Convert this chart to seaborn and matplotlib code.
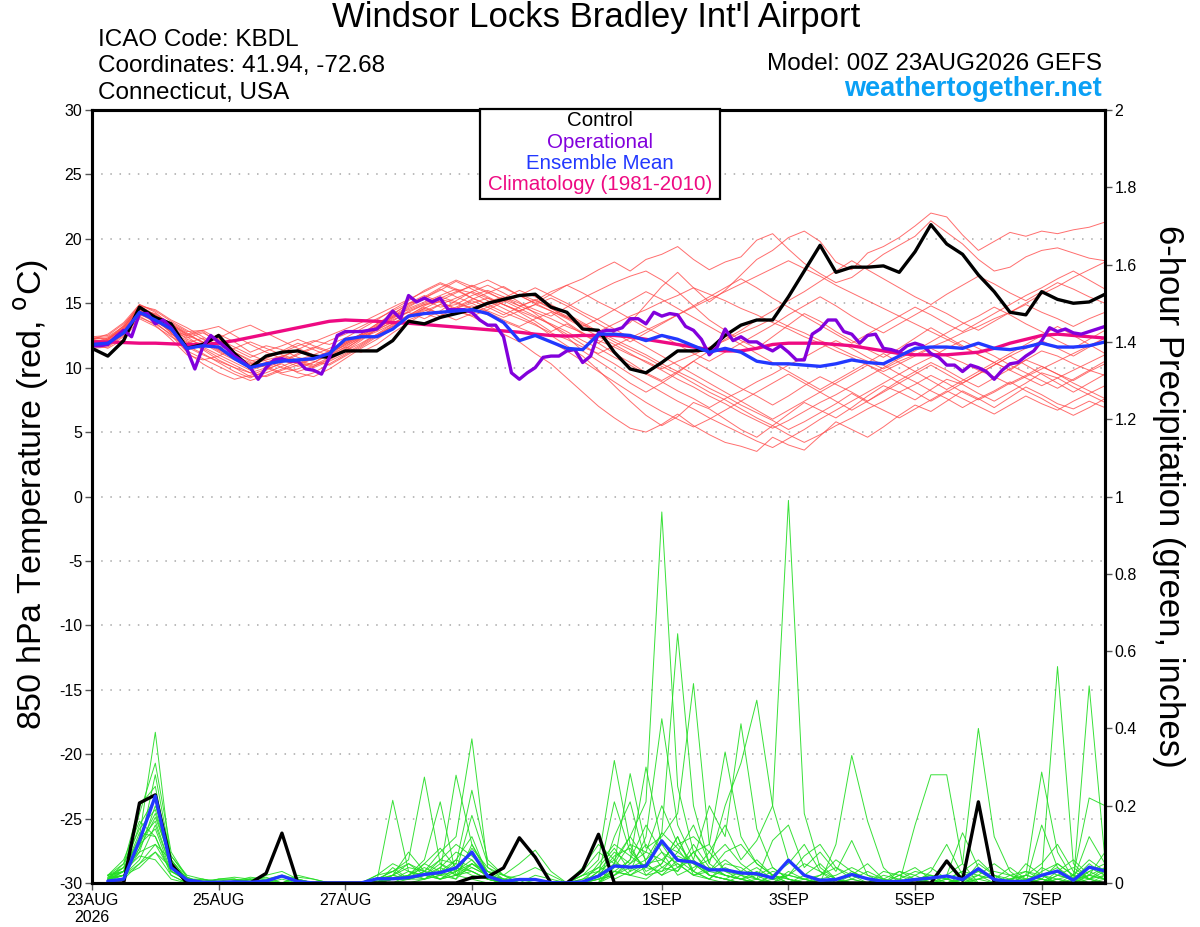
import numpy as np
import pandas as pd
import matplotlib
matplotlib.use("Agg")
import matplotlib.pyplot as plt
from matplotlib.patches import Rectangle
import seaborn as sns

sns.set_theme(style="ticks")
plt.rcParams['font.family'] = ['Liberation Sans', 'DejaVu Sans']
plt.rcParams['text.color'] = 'black'

# ---------------- data ----------------
hours6 = list(range(0, 385, 6))          # temperature, 6-hourly
hours3 = list(range(0, 385, 3))          # operational, 3-hourly
precip_hours = list(range(6, 385, 6))    # 6-hour precip

tick_hours = [0, 48, 96, 144, 216, 264, 312, 360]
tick_labels = ["23AUG\n2026", "25AUG", "27AUG", "29AUG", "1SEP", "3SEP", "5SEP", "7SEP"]

control_temp = [11.5, 10.9, 12.1, 14.7, 13.9, 13.4, 11.5, 11.8, 12.5, 11.1,
                10.0, 10.9, 11.2, 11.3, 10.9, 10.8, 11.3, 11.3, 11.3, 12.1,
                13.6, 13.4, 13.9, 14.2, 14.5, 15.0, 15.3, 15.6, 15.7, 14.7,
                14.3, 13.0, 12.9, 11.2, 9.9, 9.6, 10.4, 11.3, 11.3, 11.4,
                12.5, 13.3, 13.7, 13.7, 15.5, 17.5, 19.5, 17.4, 17.8, 17.8,
                17.9, 17.4, 19.0, 21.1, 19.6, 18.8, 17.2, 15.9, 14.3, 14.1,
                15.9, 15.3, 15.0, 15.1, 15.7]

mean_temp = [11.8, 11.9, 12.7, 14.3, 13.7, 13.0, 11.5, 11.7, 11.6, 10.7,
             10.0, 10.3, 10.5, 10.6, 10.7, 11.1, 12.2, 12.4, 12.4, 13.0,
             14.0, 14.2, 14.3, 14.4, 14.5, 14.2, 13.5, 12.1, 12.5, 12.0,
             11.5, 11.4, 12.6, 12.6, 12.5, 12.1, 12.5, 12.2, 11.7, 11.2,
             11.5, 11.2, 10.5, 10.3, 10.3, 10.2, 10.1, 10.3, 10.6, 10.4,
             10.3, 10.9, 11.5, 11.6, 11.6, 11.5, 11.9, 11.5, 11.4, 11.6,
             11.9, 11.6, 11.6, 11.7, 12.0]

clim_temp = [12.0, 12.0, 11.95, 11.9, 11.9, 11.85, 11.8, 11.8, 11.9, 12.1,
             12.35, 12.6, 12.85, 13.1, 13.35, 13.6, 13.7, 13.65, 13.6, 13.5,
             13.45, 13.35, 13.25, 13.15, 13.05, 12.95, 12.85, 12.75, 12.6, 12.5,
             12.45, 12.5, 12.5, 12.5, 12.4, 12.2, 12.0, 11.8, 11.6, 11.4,
             11.3, 11.3, 11.5, 11.8, 11.9, 11.9, 11.9, 11.8, 11.7, 11.5,
             11.3, 11.1, 11.0, 11.0, 11.0, 11.1, 11.2, 11.5, 11.9, 12.2,
             12.5, 12.6, 12.5, 12.4, 12.3]

oper_temp = [11.7, 11.7, 11.8, 12.4, 12.9, 12.4, 14.2, 14.2, 13.4, 13.7, 13.1, 12.2,
             11.4, 9.9, 11.6, 12.5, 12.0, 11.5, 10.9, 10.5, 10.0, 9.1, 10.0, 10.6,
             10.7, 10.5, 10.5, 9.9, 9.8, 9.5, 10.8, 12.5, 12.8, 12.8, 12.8, 12.9,
             13.0, 13.6, 14.4, 13.8, 15.6, 15.1, 15.4, 15.1, 15.4, 14.5, 14.5, 14.5,
             14.3, 13.7, 13.3, 13.3, 12.4, 9.6, 9.1, 9.6, 10.0, 10.8, 10.9, 10.9,
             11.3, 11.4, 10.4, 10.9, 12.7, 12.9, 12.9, 13.1, 13.8, 13.8, 13.4, 14.3,
             14.0, 14.2, 14.1, 13.2, 12.9, 12.2, 11.0, 11.6, 13.0, 12.1, 12.4, 12.0,
             12.0, 11.6, 11.3, 11.7, 11.2, 10.6, 10.6, 12.6, 13.0, 13.7, 13.7, 12.8,
             12.6, 11.9, 12.5, 12.6, 11.5, 11.4, 11.2, 11.7, 11.9, 11.7, 11.1, 10.8,
             10.2, 10.2, 9.7, 10.2, 10.0, 9.7, 9.1, 9.8, 10.3, 10.4, 10.9, 11.3,
             12.1, 13.1, 12.8, 13.0, 12.7, 12.6, 12.8, 13.0, 13.2]

# ensemble members, 850 hPa temperature (degC), 6-hourly
m01 = [12.0, 11.8, 12.9, 14.6, 13.9, 12.8, 11.9, 12.3, 11.4, 10.8, 10.2, 10.6, 10.9, 11.3, 10.8, 11.0, 11.8, 12.4,
       12.9, 13.6, 14.4, 14.9, 15.1, 14.6, 15.0, 15.4, 14.9, 14.3, 13.6, 12.8, 13.4, 12.6, 11.9, 12.8, 13.5, 14.9,
       16.3, 17.4, 16.2, 15.1, 16.0, 17.2, 18.4, 19.1, 20.1, 20.6, 19.8, 18.2, 17.6, 18.9, 19.4, 20.1, 21.0, 22.0,
       21.7, 20.3, 19.1, 19.8, 20.5, 20.2, 20.6, 20.4, 20.7, 20.9, 21.3]
m02 = [11.7, 12.1, 13.3, 14.9, 14.3, 13.2, 12.4, 11.6, 11.0, 10.4, 9.8, 10.2, 10.6, 10.1, 10.4, 11.1, 12.0, 12.6,
       13.4, 14.1, 15.0, 15.3, 14.7, 14.9, 15.6, 16.0, 15.5, 14.8, 15.2, 15.9, 16.4, 16.9, 17.6, 18.2, 17.5, 18.4,
       18.8, 19.4, 18.4, 17.6, 18.2, 18.6, 19.9, 20.4, 19.2, 18.1, 17.3, 16.6, 17.0, 17.9, 18.8, 19.5, 20.2, 21.4,
       20.5, 19.6, 18.4, 17.5, 17.8, 18.6, 19.1, 19.3, 18.9, 18.5, 18.3]
m03 = [12.2, 11.9, 12.6, 14.2, 13.5, 12.5, 11.2, 10.3, 9.6, 9.1, 9.4, 9.9, 10.3, 9.6, 9.3, 9.9, 10.7, 11.5,
       12.2, 13.0, 13.7, 14.2, 13.8, 14.4, 14.0, 13.3, 12.6, 12.0, 11.1, 10.3, 9.2, 8.1, 7.0, 6.1, 5.3, 5.0,
       5.6, 6.4, 5.5, 4.8, 4.2, 3.9, 3.5, 4.6, 4.0, 3.6, 4.7, 5.8, 5.2, 4.6, 5.4, 6.3, 7.1, 6.6,
       7.4, 8.2, 7.6, 6.9, 7.7, 8.5, 7.9, 7.2, 6.8, 7.4, 6.9]
m04 = [11.9, 12.3, 13.0, 14.4, 14.0, 13.5, 12.8, 12.9, 12.2, 11.6, 11.0, 10.5, 10.0, 9.7, 10.1, 10.6, 11.3, 12.1,
       13.0, 13.8, 14.6, 15.1, 15.6, 16.1, 15.8, 15.2, 14.6, 14.0, 13.4, 12.5, 11.7, 10.9, 9.8, 8.6, 7.4, 6.3,
       5.5, 6.2, 7.3, 6.8, 6.0, 5.2, 4.6, 5.5, 6.4, 7.3, 6.7, 6.1, 6.9, 7.8, 8.6, 8.1, 7.5, 8.3,
       9.1, 8.7, 8.0, 7.4, 8.1, 8.8, 9.6, 9.2, 8.5, 7.9, 7.3]
m05 = [12.4, 12.5, 13.4, 14.7, 14.1, 13.0, 11.5, 11.9, 12.6, 12.0, 11.2, 11.7, 11.4, 10.8, 10.5, 10.2, 10.9, 11.6,
       12.4, 13.3, 14.0, 14.8, 15.3, 15.0, 14.6, 15.1, 15.5, 15.0, 14.5, 14.0, 14.7, 15.4, 16.0, 16.6, 17.1, 17.5,
       16.8, 15.9, 14.8, 13.7, 12.9, 12.1, 11.5, 12.4, 13.3, 14.2, 13.6, 12.8, 12.1, 11.4, 10.8, 11.5, 12.3, 13.1,
       12.4, 11.7, 11.0, 10.4, 9.8, 10.6, 11.3, 10.9, 10.3, 9.8, 9.4]
m06 = [11.6, 11.7, 12.5, 13.9, 13.4, 12.6, 12.0, 11.4, 10.6, 10.0, 9.3, 9.6, 10.1, 10.6, 11.0, 10.7, 11.4, 12.3,
       13.1, 13.9, 14.3, 13.8, 14.4, 15.2, 15.9, 16.4, 15.8, 15.1, 14.2, 13.3, 12.4, 11.3, 10.5, 9.7, 8.8, 8.1,
       8.8, 9.6, 10.5, 11.3, 12.2, 12.9, 13.7, 14.4, 15.2, 15.9, 16.7, 17.5, 18.3, 17.6, 16.9, 16.2, 15.5, 14.9,
       15.7, 16.4, 17.1, 16.5, 15.8, 15.2, 15.9, 16.6, 16.1, 15.5, 15.0]
m07 = [12.1, 12.0, 12.8, 14.3, 13.6, 12.9, 12.5, 12.8, 11.9, 11.2, 10.6, 10.1, 9.6, 9.9, 10.4, 11.0, 11.6, 11.2,
       11.8, 12.7, 13.5, 14.2, 14.9, 14.4, 14.8, 14.3, 13.7, 13.2, 13.8, 14.3, 13.5, 12.7, 11.9, 11.1, 10.4, 9.6,
       9.0, 9.7, 10.5, 9.8, 9.1, 8.4, 7.8, 7.1, 7.8, 8.6, 9.3, 8.7, 8.1, 7.4, 8.2, 9.0, 9.7, 10.4,
       9.8, 9.1, 8.5, 9.2, 9.9, 10.6, 10.1, 9.5, 9.0, 9.7, 10.3]
m08 = [11.8, 12.2, 13.1, 14.8, 14.5, 13.7, 13.1, 12.4, 11.7, 11.2, 10.5, 10.8, 11.2, 11.7, 12.1, 11.8, 12.3, 13.0,
       13.7, 14.5, 15.2, 16.0, 16.6, 16.1, 15.4, 14.9, 15.4, 16.0, 15.5, 14.9, 14.2, 13.5, 12.8, 12.2, 11.6, 11.0,
       10.3, 9.7, 9.1, 8.4, 7.8, 7.1, 6.5, 5.9, 5.2, 5.8, 6.5, 7.2, 8.0, 7.3, 6.7, 6.1, 6.8, 7.5,
       8.2, 7.6, 7.0, 6.4, 7.1, 7.8, 7.2, 6.7, 7.4, 8.0, 8.6]
m09 = [12.3, 12.4, 13.2, 14.5, 13.8, 12.7, 11.3, 10.7, 10.1, 9.5, 9.0, 9.4, 9.9, 10.4, 10.0, 10.5, 11.1, 11.8,
       12.6, 13.4, 14.1, 14.7, 14.2, 14.7, 15.3, 15.8, 16.3, 15.6, 15.0, 15.7, 16.4, 15.8, 15.1, 14.5, 13.8, 13.1,
       12.5, 11.8, 11.1, 10.5, 11.2, 11.9, 12.6, 13.3, 14.1, 14.8, 15.5, 14.8, 14.0, 13.3, 12.7, 13.4, 14.1, 14.8,
       14.2, 13.5, 12.9, 13.6, 14.3, 15.0, 15.7, 16.3, 17.0, 17.6, 18.2]
m10 = [11.5, 11.6, 12.4, 14.0, 13.3, 12.2, 11.0, 10.6, 10.9, 11.5, 12.0, 11.5, 11.0, 10.6, 10.2, 10.8, 11.5, 12.2,
       13.0, 13.5, 14.0, 14.6, 15.2, 15.8, 16.4, 15.9, 15.2, 14.6, 14.0, 13.3, 12.6, 11.8, 11.0, 10.3, 9.5, 8.8,
       8.1, 7.4, 6.8, 6.1, 5.5, 4.9, 4.3, 3.8, 4.5, 5.2, 6.0, 6.7, 7.4, 8.1, 8.8, 9.5, 10.2, 10.8,
       11.5, 12.1, 11.5, 10.9, 10.2, 9.6, 9.0, 8.4, 9.1, 9.8, 10.5]
m11 = [12.0, 12.2, 13.0, 14.6, 14.0, 13.1, 12.2, 11.8, 12.3, 12.9, 13.3, 12.7, 12.1, 11.5, 11.0, 11.5, 12.0, 12.6,
       13.3, 14.0, 14.8, 15.4, 16.0, 16.7, 16.1, 15.5, 14.9, 14.4, 14.9, 15.4, 14.8, 14.1, 13.4, 12.7, 12.0, 12.7,
       13.4, 14.1, 14.8, 15.5, 16.2, 16.9, 16.2, 15.4, 14.7, 14.0, 13.3, 12.6, 11.9, 12.6, 13.3, 14.0, 14.7, 14.1,
       13.4, 12.8, 13.5, 14.2, 14.9, 15.6, 16.2, 16.9, 17.5, 16.8, 16.1]
m12 = [11.9, 11.5, 12.2, 13.8, 13.2, 12.4, 11.7, 11.1, 10.4, 9.7, 9.2, 9.8, 10.4, 11.0, 11.5, 12.1, 12.6, 13.2,
       13.8, 14.4, 15.0, 15.6, 15.1, 14.5, 14.0, 14.5, 15.1, 15.6, 16.2, 15.6, 15.0, 14.3, 13.7, 13.0, 12.3, 11.6,
       10.9, 10.2, 9.5, 8.8, 8.1, 7.4, 6.7, 6.0, 6.7, 7.4, 8.1, 8.8, 9.5, 10.2, 9.5, 8.8, 8.1, 7.4,
       8.1, 8.8, 9.5, 10.2, 10.9, 11.5, 12.1, 11.5, 10.9, 11.6, 12.3]
m13 = [12.2, 12.6, 13.5, 14.9, 14.4, 13.6, 12.9, 12.2, 11.5, 10.8, 10.3, 10.7, 11.3, 11.9, 11.4, 10.9, 11.6, 12.4,
       13.2, 14.0, 14.5, 15.0, 15.5, 15.1, 14.6, 14.1, 13.6, 13.1, 12.6, 12.0, 11.3, 10.5, 9.7, 8.9, 8.1, 7.3,
       6.6, 6.0, 5.4, 6.0, 6.7, 7.4, 8.1, 8.8, 9.5, 8.8, 8.1, 7.4, 6.7, 7.4, 8.1, 8.8, 9.5, 10.2,
       9.5, 8.8, 9.5, 10.2, 10.9, 10.2, 9.5, 8.8, 8.1, 8.8, 9.5]
m14 = [11.7, 11.9, 12.7, 14.1, 13.7, 13.3, 12.6, 12.0, 11.4, 10.9, 10.4, 10.0, 9.5, 9.2, 9.6, 10.3, 11.0, 11.7,
       12.5, 13.2, 13.9, 14.5, 14.0, 14.6, 15.2, 14.7, 14.1, 14.7, 15.3, 14.6, 13.9, 13.2, 13.8, 14.5, 15.2, 15.9,
       15.3, 14.6, 13.9, 13.2, 12.5, 11.8, 11.1, 10.4, 9.7, 9.0, 8.3, 9.0, 9.7, 10.4, 11.1, 10.4, 9.7, 9.0,
       8.3, 9.0, 9.7, 10.4, 11.1, 11.8, 12.5, 13.2, 12.5, 11.8, 11.1]
m15 = [12.1, 12.0, 12.9, 14.4, 13.9, 13.0, 12.3, 12.7, 12.1, 11.4, 10.8, 11.3, 11.7, 12.2, 11.7, 11.3, 11.9, 12.5,
       13.1, 13.7, 14.3, 14.9, 15.4, 15.9, 16.3, 16.8, 16.2, 15.6, 15.0, 14.4, 13.8, 13.1, 12.4, 11.8, 11.1, 10.4,
       9.8, 9.1, 8.5, 7.8, 7.2, 6.5, 5.9, 5.3, 5.9, 6.6, 7.3, 7.9, 8.6, 9.3, 10.0, 10.7, 11.3, 12.0,
       12.7, 13.4, 14.0, 14.7, 14.1, 13.4, 12.8, 12.1, 11.5, 12.2, 12.9]
m16 = [11.8, 12.1, 12.9, 14.2, 13.6, 12.8, 12.1, 11.5, 10.8, 10.2, 9.6, 10.0, 10.5, 11.1, 11.6, 11.2, 11.8, 12.5,
       13.2, 13.9, 14.7, 15.4, 16.1, 15.5, 15.0, 14.4, 13.9, 14.4, 14.9, 14.4, 13.9, 13.3, 12.8, 13.4, 14.0, 14.5,
       15.1, 15.6, 16.2, 15.7, 15.2, 14.6, 14.1, 13.5, 13.0, 12.4, 11.9, 11.3, 10.8, 10.2, 9.7, 10.3, 10.9, 11.5,
       10.9, 10.4, 9.8, 9.3, 8.7, 9.3, 9.9, 10.5, 11.1, 11.7, 12.3]
m17 = [12.0, 11.7, 12.6, 14.5, 14.2, 13.4, 12.7, 11.9, 11.2, 10.6, 10.1, 10.4, 10.9, 10.5, 10.1, 10.7, 11.3, 11.9,
       12.6, 13.2, 13.9, 14.6, 14.2, 13.7, 14.2, 14.7, 15.2, 15.7, 15.2, 14.6, 14.0, 13.4, 12.7, 12.0, 11.4, 10.8,
       10.1, 9.5, 8.8, 8.1, 7.5, 6.8, 6.1, 5.5, 4.8, 4.2, 4.8, 5.5, 6.1, 6.8, 7.4, 8.1, 8.7, 9.4,
       8.8, 8.1, 7.5, 8.1, 8.8, 9.4, 10.1, 9.5, 8.8, 8.2, 7.6]
m18 = [12.3, 12.2, 13.1, 14.7, 14.0, 13.3, 12.5, 12.0, 11.3, 10.7, 10.0, 10.3, 10.8, 11.4, 12.0, 12.5, 13.0, 13.5,
       14.1, 14.7, 15.3, 15.9, 16.5, 16.0, 15.4, 14.9, 14.3, 13.8, 13.3, 12.7, 12.2, 11.6, 11.1, 11.7, 12.3, 12.9,
       13.5, 14.1, 14.7, 15.3, 15.9, 16.5, 17.1, 17.7, 18.3, 17.7, 17.1, 16.4, 15.8, 15.2, 14.6, 14.0, 13.4, 12.8,
       12.2, 11.6, 11.0, 10.4, 9.8, 9.2, 8.6, 9.2, 9.8, 10.4, 11.0]
m19 = [11.6, 11.8, 12.7, 14.3, 13.8, 12.7, 11.6, 11.0, 10.5, 10.0, 9.6, 9.3, 9.8, 10.2, 10.7, 11.2, 11.7, 12.3,
       12.8, 13.4, 13.9, 14.4, 14.9, 15.4, 15.9, 15.4, 14.9, 14.4, 13.9, 13.4, 12.8, 12.1, 11.5, 10.8, 10.2, 9.5,
       8.9, 8.2, 7.6, 6.9, 7.6, 8.2, 8.9, 9.5, 10.2, 10.8, 11.5, 12.1, 11.5, 10.8, 10.2, 9.5, 8.9, 8.2,
       7.6, 6.9, 7.6, 8.2, 8.9, 8.2, 7.6, 6.9, 6.3, 6.9, 7.6]
m20 = [12.2, 12.3, 13.2, 14.8, 14.1, 13.4, 12.6, 12.9, 13.2, 12.5, 11.8, 11.2, 10.7, 10.3, 10.7, 11.3, 11.9, 12.6,
       13.4, 14.2, 14.9, 15.5, 16.2, 16.8, 16.3, 15.8, 15.3, 14.8, 14.3, 13.8, 13.2, 12.7, 12.1, 11.6, 11.0, 10.5,
       9.9, 10.5, 11.0, 11.6, 12.1, 12.7, 13.2, 13.8, 13.2, 12.7, 12.1, 11.6, 11.0, 10.5, 9.9, 10.5, 11.0, 11.6,
       12.1, 12.7, 13.2, 13.8, 14.3, 14.9, 14.3, 13.8, 13.2, 13.8, 14.3]
temp_members = [m01, m02, m03, m04, m05, m06, m07, m08, m09, m10,
                m11, m12, m13, m14, m15, m16, m17, m18, m19, m20]

# 6-hour precipitation (inches)
control_precip = [0, 0, 0.207, 0.228, 0.05, 0, 0, 0,
                  0, 0, 0.025, 0.129, 0, 0, 0, 0,
                  0, 0, 0, 0, 0, 0, 0, 0.014,
                  0.016, 0.039, 0.117, 0.067, 0, 0, 0.033, 0.126,
                  0, 0, 0, 0, 0, 0, 0, 0,
                  0, 0, 0, 0, 0, 0, 0, 0,
                  0, 0, 0, 0, 0, 0.057, 0.007, 0.21,
                  0, 0, 0, 0, 0, 0, 0, 0]
mean_precip = [0.005, 0.01, 0.11, 0.225, 0.04, 0.008, 0.002, 0.002,
               0.003, 0.002, 0.005, 0.018, 0.004, 0, 0, 0,
               0, 0.011, 0.011, 0.014, 0.022, 0.027, 0.039, 0.08,
               0.017, 0.004, 0.009, 0.009, 0.001, 0, 0.003, 0.018,
               0.044, 0.041, 0.044, 0.109, 0.059, 0.054, 0.034, 0.034,
               0.026, 0.024, 0.013, 0.059, 0.02, 0.007, 0.009, 0.022,
               0.011, 0.004, 0.004, 0.009, 0.013, 0.018, 0.009, 0.037,
               0.009, 0.004, 0.004, 0.02, 0.031, 0.007, 0.041, 0.031]

p01 = [0.01, 0.03, 0.12, 0.39, 0.05, 0.01, 0, 0, 0.005, 0.01, 0, 0, 0, 0, 0, 0,
       0, 0, 0.02, 0.05, 0.03, 0.08, 0.12, 0.373, 0.04, 0.01, 0, 0, 0, 0, 0, 0.03,
       0.06, 0.12, 0.21, 0.96, 0.25, 0.08, 0.02, 0.01, 0, 0, 0, 0, 0.02, 0.05, 0.01, 0,
       0, 0, 0, 0, 0, 0.01, 0.03, 0.02, 0, 0, 0, 0.01, 0.05, 0.02, 0, 0.01]
p02 = [0.02, 0.04, 0.18, 0.31, 0.08, 0.015, 0, 0.01, 0.01, 0, 0, 0.02, 0.01, 0, 0, 0,
       0, 0, 0, 0, 0.01, 0.02, 0.05, 0.03, 0.01, 0, 0, 0, 0, 0, 0.02, 0.06,
       0.317, 0.1, 0.02, 0.05, 0.12, 0.03, 0.08, 0.15, 0.06, 0.11, 0.2, 0.99, 0.18, 0.04, 0.01, 0,
       0, 0, 0.02, 0.04, 0.01, 0, 0, 0, 0, 0.01, 0.03, 0.02, 0, 0, 0.04, 0.02]
p03 = [0.015, 0.02, 0.09, 0.28, 0.06, 0.01, 0, 0, 0, 0.01, 0.015, 0, 0, 0, 0, 0,
       0, 0.01, 0.03, 0.06, 0.274, 0.05, 0.02, 0.01, 0, 0, 0, 0, 0, 0, 0, 0.02,
       0.21, 0.08, 0.04, 0.13, 0.645, 0.2, 0.05, 0.02, 0.01, 0, 0, 0.03, 0.01, 0, 0, 0.02,
       0.05, 0.01, 0, 0, 0, 0.02, 0.05, 0.40, 0.12, 0.03, 0, 0, 0.01, 0, 0, 0]
p04 = [0.01, 0.05, 0.2, 0.25, 0.04, 0.005, 0.01, 0, 0, 0, 0, 0, 0, 0, 0, 0,
       0, 0.005, 0.214, 0.03, 0.01, 0.04, 0.08, 0.06, 0.02, 0, 0, 0, 0, 0, 0, 0,
       0.05, 0.283, 0.09, 0.12, 0.18, 0.516, 0.1, 0.03, 0.01, 0, 0.02, 0.05, 0.1, 0.03, 0.01, 0,
       0, 0, 0, 0, 0.03, 0.1, 0.02, 0, 0, 0, 0.02, 0.287, 0.08, 0.01, 0.12, 0.05]
p05 = [0.005, 0.03, 0.15, 0.22, 0.03, 0.01, 0.005, 0.01, 0.015, 0.01, 0, 0, 0, 0, 0, 0,
       0, 0, 0.01, 0.02, 0.06, 0.21, 0.02, 0.05, 0.03, 0.01, 0, 0, 0, 0, 0, 0,
       0.02, 0.06, 0.30, 0.1, 0.08, 0.15, 0.05, 0.2, 0.31, 0.473, 0.2, 0.06, 0.02, 0.01, 0, 0,
       0, 0, 0, 0.02, 0.04, 0.01, 0, 0, 0, 0, 0, 0, 0.01, 0.02, 0.22, 0.2]
p06 = [0.01, 0.02, 0.08, 0.2, 0.07, 0.02, 0.01, 0, 0, 0.005, 0.01, 0.02, 0, 0, 0, 0,
       0, 0, 0.04, 0.01, 0.05, 0.03, 0.279, 0.1, 0.02, 0, 0, 0, 0, 0, 0.01, 0.04,
       0.09, 0.03, 0.12, 0.425, 0.15, 0.06, 0.2, 0.12, 0.412, 0.14, 0.04, 0.01, 0, 0, 0, 0,
       0, 0, 0.03, 0.01, 0, 0, 0, 0.05, 0.02, 0, 0, 0.02, 0.56, 0.05, 0.01, 0]
p07 = [0.02, 0.03, 0.1, 0.18, 0.05, 0.01, 0, 0, 0, 0, 0, 0, 0.01, 0, 0, 0,
       0, 0.01, 0.02, 0.04, 0.03, 0.06, 0.05, 0.24, 0.06, 0.02, 0, 0, 0, 0, 0.03, 0.08,
       0.05, 0.12, 0.06, 0.1, 0.04, 0.08, 0.1, 0.339, 0.12, 0.05, 0.02, 0, 0, 0, 0.1, 0.33,
       0.16, 0.04, 0, 0, 0, 0, 0, 0, 0, 0, 0, 0.15, 0.04, 0, 0.51, 0.06]
p08 = [0.01, 0.02, 0.06, 0.15, 0.04, 0, 0, 0.005, 0.01, 0, 0, 0, 0, 0, 0, 0,
       0, 0, 0.01, 0.01, 0.02, 0.05, 0.03, 0.175, 0.05, 0.02, 0.05, 0.085, 0.03, 0, 0, 0,
       0.12, 0.21, 0.05, 0.02, 0.06, 0.03, 0.01, 0.04, 0.02, 0.01, 0.11, 0.15, 0.04, 0.08, 0.03, 0.11,
       0.02, 0, 0, 0.15, 0.28, 0.28, 0.05, 0, 0, 0, 0.05, 0.02, 0, 0, 0.03, 0.01]
p09 = [0.02, 0.06, 0.16, 0.12, 0.03, 0.01, 0, 0, 0, 0.01, 0.005, 0, 0, 0, 0, 0,
       0, 0, 0.02, 0.08, 0.03, 0.01, 0.04, 0.03, 0.01, 0, 0, 0, 0, 0, 0, 0.05,
       0.1, 0.07, 0.04, 0.08, 0.05, 0.02, 0.04, 0.02, 0.01, 0.03, 0.01, 0.02, 0.07, 0.1, 0.04, 0.01,
       0, 0, 0, 0, 0.01, 0.02, 0.13, 0.04, 0.01, 0.04, 0.01, 0, 0.02, 0.01, 0.05, 0.02]
p10 = [0.005, 0.01, 0.05, 0.1, 0.06, 0.01, 0.005, 0, 0, 0, 0, 0, 0.015, 0.01, 0, 0,
       0, 0.02, 0.05, 0.03, 0.02, 0.06, 0.1, 0.07, 0.03, 0.02, 0.01, 0, 0, 0, 0, 0,
       0.04, 0.1, 0.08, 0.06, 0.1, 0.12, 0.08, 0.03, 0.02, 0, 0, 0.02, 0.05, 0.03, 0, 0,
       0, 0.03, 0.02, 0, 0, 0, 0, 0.02, 0.01, 0, 0, 0.03, 0.05, 0.02, 0.01, 0.03]
p11 = [0.01, 0.02, 0.04, 0.08, 0.02, 0, 0, 0, 0.005, 0.01, 0, 0, 0, 0, 0, 0,
       0, 0, 0, 0.02, 0.04, 0.02, 0.06, 0.12, 0.02, 0, 0, 0, 0, 0, 0, 0.01,
       0.03, 0.06, 0.15, 0.08, 0.02, 0.04, 0.06, 0.1, 0.05, 0.02, 0, 0, 0, 0.02, 0.04, 0.02,
       0, 0, 0.01, 0.03, 0.02, 0, 0, 0.01, 0.03, 0.02, 0, 0.01, 0, 0, 0.02, 0.04]
p12 = [0.015, 0.03, 0.07, 0.06, 0.01, 0, 0, 0, 0, 0, 0, 0, 0, 0, 0, 0,
       0, 0.02, 0.03, 0.01, 0.03, 0.02, 0.01, 0.05, 0.02, 0.01, 0, 0, 0, 0, 0.04, 0.1,
       0.06, 0.02, 0.04, 0.03, 0.08, 0.05, 0.02, 0.01, 0.03, 0.06, 0.02, 0.01, 0, 0, 0, 0.03,
       0.01, 0, 0, 0, 0, 0, 0.01, 0.02, 0.05, 0.02, 0.01, 0, 0.03, 0.06, 0.02, 0.01]
p13 = [0.01, 0.04, 0.11, 0.16, 0.04, 0.01, 0.01, 0.005, 0, 0, 0.02, 0.03, 0.01, 0, 0, 0,
       0, 0.01, 0.02, 0.01, 0.02, 0.04, 0.02, 0.09, 0.04, 0.02, 0, 0, 0, 0, 0.02, 0.03,
       0.08, 0.05, 0.1, 0.04, 0.03, 0.08, 0.03, 0.02, 0.01, 0.02, 0.04, 0.01, 0, 0.01, 0.02, 0.04,
       0.02, 0.01, 0, 0, 0, 0.01, 0.03, 0.06, 0.02, 0, 0, 0.04, 0.02, 0.01, 0.02, 0.08]
p14 = [0.01, 0.02, 0.1, 0.14, 0.03, 0.01, 0, 0.01, 0.01, 0.005, 0, 0, 0, 0, 0, 0,
       0, 0, 0.01, 0.03, 0.02, 0.01, 0.03, 0.06, 0.01, 0, 0, 0, 0, 0, 0, 0.02,
       0.05, 0.04, 0.06, 0.13, 0.09, 0.03, 0.01, 0.05, 0.04, 0.01, 0, 0, 0, 0, 0, 0,
       0, 0.01, 0.03, 0.02, 0, 0, 0.01, 0.01, 0, 0.01, 0.02, 0.05, 0.1, 0.03, 0.01, 0.04]
p15 = [0.02, 0.05, 0.14, 0.19, 0.05, 0.01, 0, 0, 0, 0, 0, 0.01, 0, 0, 0, 0,
       0, 0, 0.01, 0.02, 0.05, 0.09, 0.04, 0.02, 0.01, 0, 0, 0, 0, 0, 0, 0.01,
       0.02, 0.05, 0.08, 0.2, 0.1, 0.05, 0.03, 0.08, 0.1, 0.05, 0.02, 0, 0, 0, 0, 0.01,
       0.03, 0.01, 0, 0, 0, 0, 0.02, 0.03, 0.01, 0, 0.02, 0.01, 0, 0.02, 0.06, 0.03]
p16 = [0.01, 0.03, 0.13, 0.12, 0.02, 0, 0, 0, 0.005, 0.015, 0.01, 0, 0, 0, 0, 0,
       0, 0, 0, 0.01, 0.03, 0.01, 0.02, 0.04, 0.02, 0.01, 0.02, 0.04, 0.02, 0, 0, 0,
       0.03, 0.02, 0.05, 0.06, 0.03, 0.1, 0.04, 0.02, 0.01, 0, 0.02, 0.01, 0, 0, 0.01, 0.02,
       0.01, 0, 0.02, 0.01, 0, 0, 0, 0, 0, 0.02, 0.03, 0.01, 0, 0, 0.01, 0.02]
p17 = [0.005, 0.02, 0.09, 0.17, 0.06, 0.01, 0, 0, 0, 0, 0, 0, 0, 0, 0, 0,
       0, 0.01, 0.03, 0.05, 0.02, 0.03, 0.01, 0.1, 0.03, 0, 0, 0, 0, 0, 0.01, 0.02,
       0.07, 0.09, 0.03, 0.05, 0.12, 0.02, 0.01, 0, 0.02, 0.04, 0.01, 0, 0.01, 0.02, 0.06, 0.03,
       0.01, 0, 0, 0.01, 0.02, 0.01, 0, 0.01, 0.02, 0.01, 0, 0.02, 0.04, 0.01, 0, 0.02]
p18 = [0.015, 0.04, 0.08, 0.1, 0.03, 0.005, 0, 0, 0, 0, 0, 0, 0, 0, 0, 0,
       0, 0, 0.01, 0.02, 0.01, 0.03, 0.06, 0.04, 0.02, 0.01, 0, 0, 0, 0, 0, 0.03,
       0.01, 0.03, 0.05, 0.02, 0.04, 0.06, 0.02, 0.01, 0, 0.01, 0.03, 0.02, 0.01, 0, 0, 0.01,
       0, 0.02, 0.01, 0, 0, 0, 0.01, 0.03, 0.01, 0, 0.01, 0, 0.02, 0.04, 0.01, 0]
p19 = [0.01, 0.02, 0.05, 0.08, 0.04, 0.01, 0.005, 0, 0, 0, 0, 0, 0, 0, 0, 0,
       0, 0.005, 0.01, 0.01, 0.02, 0.01, 0.02, 0.03, 0.01, 0, 0, 0.02, 0.01, 0, 0, 0.01,
       0.02, 0.04, 0.02, 0.03, 0.05, 0.02, 0.03, 0.06, 0.03, 0.01, 0, 0, 0, 0, 0.01, 0,
       0, 0, 0, 0, 0.01, 0.02, 0.01, 0, 0, 0.01, 0.02, 0.01, 0, 0.01, 0.03, 0.05]
p20 = [0.02, 0.03, 0.11, 0.23, 0.07, 0.015, 0, 0, 0, 0, 0, 0, 0.02, 0.01, 0, 0,
       0, 0, 0.02, 0.01, 0.01, 0.02, 0.03, 0.05, 0.02, 0, 0, 0, 0, 0, 0.02, 0.04,
       0.03, 0.02, 0.01, 0.04, 0.07, 0.05, 0.02, 0.01, 0, 0, 0.01, 0.02, 0.01, 0, 0, 0,
       0, 0, 0, 0.01, 0.02, 0.01, 0, 0, 0, 0, 0.01, 0.02, 0.01, 0, 0.02, 0.01]
precip_members = [p01, p02, p03, p04, p05, p06, p07, p08, p09, p10,
                  p11, p12, p13, p14, p15, p16, p17, p18, p19, p20]

# ---------------- colours ----------------
C_MEMBER_T = "#FF4A4A"
C_MEMBER_P = "#22DD22"
C_CONTROL = "#000000"
C_OPER = "#8200DC"
C_MEAN = "#2238FF"
C_CLIM = "#EE0A82"
C_SITE = "#0AA0F5"

# ---------------- long tables for seaborn ----------------
temp_df = pd.DataFrame({
    "hour": np.tile(hours6, len(temp_members)),
    "temp": np.concatenate([np.asarray(m, float) for m in temp_members]),
    "member": np.repeat(np.arange(len(temp_members)), len(hours6)),
})
precip_df = pd.DataFrame({
    "hour": np.tile(precip_hours, len(precip_members)),
    "precip": np.concatenate([np.asarray(m, float) for m in precip_members]),
    "member": np.repeat(np.arange(len(precip_members)), len(precip_hours)),
})

# ---------------- figure ----------------
W, H = 1200, 927
fig = plt.figure(figsize=(W / 100, H / 100), dpi=100)
ax = fig.add_axes([92 / W, 1 - 883 / H, (1105 - 92) / W, (883 - 110) / H])
ax2 = ax.twinx()

# temperature
sns.lineplot(data=temp_df, x="hour", y="temp", units="member", estimator=None,
             color=C_MEMBER_T, lw=0.7, alpha=0.8, ax=ax, legend=False)
sns.lineplot(x=hours6, y=clim_temp, color=C_CLIM, lw=2.4, ax=ax)
sns.lineplot(x=hours6, y=control_temp, color=C_CONTROL, lw=2.4, ax=ax)
sns.lineplot(x=hours3, y=oper_temp, color=C_OPER, lw=2.4, ax=ax)
sns.lineplot(x=hours6, y=mean_temp, color=C_MEAN, lw=2.4, ax=ax)

# precipitation
sns.lineplot(data=precip_df, x="hour", y="precip", units="member", estimator=None,
             color=C_MEMBER_P, lw=0.7, alpha=0.9, ax=ax2, legend=False)
sns.lineplot(x=precip_hours, y=control_precip, color=C_CONTROL, lw=2.4, ax=ax2)
sns.lineplot(x=precip_hours, y=mean_precip, color=C_MEAN, lw=2.4, ax=ax2)

# axes
ax.set_xlim(0, 384)
ax.set_ylim(-30, 30)
ax2.set_ylim(0, 2)
ax.set_xticks(tick_hours)
ax.set_xticklabels(tick_labels)
ax.set_yticks(np.arange(-30, 31, 5))
ax.set_yticklabels([str(v) for v in range(-30, 31, 5)])
r_ticks = np.round(np.arange(0, 2.01, 0.2), 1)
ax2.set_yticks(r_ticks)
ax2.set_yticklabels([("%g" % v) for v in r_ticks])
ax.set_xlabel("")
ax.set_ylabel("")
ax2.set_ylabel("")

ax.grid(axis="y", color="#A8A8A8", linestyle=(0, (1, 5)), linewidth=1.1)
ax.set_axisbelow(True)

for a in (ax, ax2):
    for s in a.spines.values():
        s.set_linewidth(2.2)
        s.set_color("black")
ax.tick_params(axis="both", direction="out", length=5, width=1, color="#555555",
               labelsize=11.5, pad=2, labelcolor="black")
ax2.tick_params(axis="y", direction="out", length=5, width=1, color="#555555",
                labelsize=11.5, pad=2, labelcolor="black")

# titles / annotations
fig.text(596 / W, 1 - 18 / H, "Windsor Locks Bradley Int'l Airport",
         ha="center", va="center", fontsize=25, color="black")
fig.text(98 / W, 1 - 40 / H, "ICAO Code: KBDL", ha="left", va="center", fontsize=17.5)
fig.text(98 / W, 1 - 66 / H, "Coordinates: 41.94, -72.68", ha="left", va="center", fontsize=17.5)
fig.text(98 / W, 1 - 93 / H, "Connecticut, USA", ha="left", va="center", fontsize=17.5)
fig.text(1102 / W, 1 - 64 / H, "Model: 00Z 23AUG2026 GEFS", ha="right", va="center", fontsize=17.5)
fig.text(1102 / W, 1 - 89 / H, "weathertogether.net", ha="right", va="center",
         fontsize=19.5, fontweight="bold", color=C_SITE)

fig.text(32 / W, 1 - 494 / H, "850 hPa Temperature (red, $^{\\rm o}$C)", rotation=90,
         ha="center", va="center", fontsize=24.5)
fig.text(1168 / W, 1 - 496 / H, "6-hour Precipitation (green, inches)", rotation=270,
         ha="center", va="center", fontsize=25)

# legend box
fig.patches.append(Rectangle((480 / W, 1 - 199 / H), (720 - 480) / W, (199 - 109) / H,
                             transform=fig.transFigure, facecolor="white",
                             edgecolor="black", linewidth=1.6, zorder=5))
legend_items = [("Control", C_CONTROL), ("Operational", C_OPER),
                ("Ensemble Mean", C_MEAN), ("Climatology (1981-2010)", C_CLIM)]
for k, (txt, col) in enumerate(legend_items):
    fig.text(600 / W, 1 - (121 + 21.3 * k) / H, txt, ha="center", va="center",
             fontsize=14.8, color=col, zorder=6)

fig.savefig("out.png", dpi=100)
